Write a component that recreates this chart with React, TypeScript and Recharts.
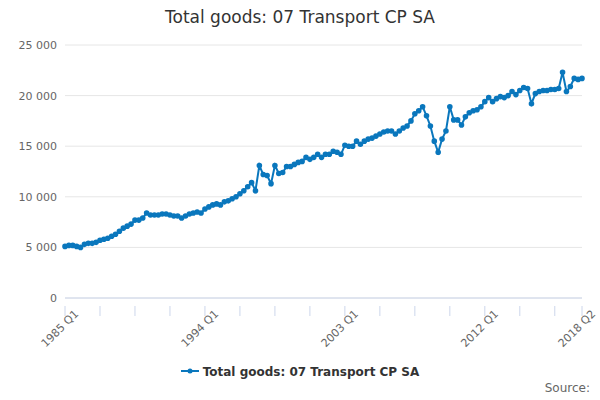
import React from "react"
import { LineChart, Line, CartesianGrid, XAxis, YAxis } from "recharts"

const VALUES = [
  5100, 5200, 5200, 5100,
  5000, 5300, 5400, 5400,
  5500, 5700, 5800, 5900,
  6100, 6300, 6600, 6900,
  7100, 7300, 7700, 7700,
  7900, 8400, 8200, 8200,
  8200, 8300, 8300, 8200,
  8100, 8100, 7900, 8100,
  8300, 8400, 8500, 8400,
  8800, 9000, 9200, 9300,
  9200, 9500, 9600, 9800,
  10000, 10300, 10600, 11000,
  11400, 10600, 13100, 12200,
  12100, 11300, 13100, 12300,
  12400, 13000, 13000, 13200,
  13400, 13500, 13900, 13700,
  13900, 14200, 13900, 14200,
  14200, 14500, 14400, 14200,
  15100, 15000, 15000, 15500,
  15200, 15500, 15700, 15800,
  16000, 16200, 16400, 16500,
  16500, 16200, 16500, 16800,
  17000, 17500, 18200, 18500,
  18900, 18000, 17000, 15500,
  14400, 15700, 16500, 18900,
  17600, 17600, 17100, 17900,
  18300, 18500, 18600, 18900,
  19400, 19800, 19400, 19700,
  19900, 19800, 20000, 20400,
  20100, 20500, 20800, 20700,
  19200, 20200, 20400, 20500,
  20500, 20600, 20600, 20700,
  22300, 20400, 20900, 21700,
  21600, 21700,
]

const START_YEAR = 1985
const Y_TICKS = [0, 5000, 10000, 15000, 20000, 25000]
const LABELS = ["1985 Q1", "1994 Q1", "2003 Q1", "2012 Q1", "2018 Q2"]
const BLUE = "#0a77bd"

const data = VALUES.map((v, i) => ({
  q: `${START_YEAR + Math.floor(i / 4)} Q${(i % 4) + 1}`,
  v,
}))
const xTicks = data.filter((_, i) => i % 9 === 0).map(d => d.q).concat(data[data.length - 1].q)

const fmt = (n: number) => n.toString().replace(/\B(?=(\d{3})+(?!\d))/g, " ")

const XTick = (props: any) => {
  const { x, y, payload } = props
  const show = LABELS.includes(payload.value)
  return (
    <g transform={`translate(${x},${y})`}>
      <line x1={0} y1={0} x2={0} y2={10} stroke="#ccd6eb" />
      {show && (
        <text x={4} y={16} textAnchor="end" fill="#666" fontSize={11} transform="rotate(-45)">
          {payload.value}
        </text>
      )}
    </g>
  )
}

export default function App() {
  return (
    <div style={{ position: "absolute", left: 0, top: 0, width: 600, height: 400, fontFamily: "'Lucida Grande', 'DejaVu Sans', sans-serif", background: "#fff" }}>
      <div style={{ position: "absolute", top: 7, width: 600, textAlign: "center", fontSize: 17, color: "#333" }}>
        Total goods: 07 Transport CP SA
      </div>
      <LineChart width={600} height={400} data={data} margin={{ top: 45, right: 18, bottom: 42, left: 0 }}>
        <CartesianGrid vertical={false} stroke="#e6e6e6" />
        <YAxis domain={[0, 25000]} ticks={Y_TICKS} width={65} axisLine={false} tickLine={false}
          tickFormatter={fmt} tick={{ fill: "#666", fontSize: 11 }} />
        <XAxis dataKey="q" ticks={xTicks} interval={0} height={60} stroke="#ccd6eb" tickLine={false} tick={<XTick />} />
        <Line dataKey="v" stroke={BLUE} strokeWidth={2} dot={{ r: 1.8, fill: BLUE, stroke: BLUE }} isAnimationActive={false} />
      </LineChart>
      <div style={{ position: "absolute", top: 365, width: 600, textAlign: "center", fontSize: 12, fontWeight: "bold", color: "#333" }}>
        <svg width={18} height={10} style={{ marginRight: 4 }}>
          <line x1={0} y1={5} x2={18} y2={5} stroke={BLUE} strokeWidth={2} />
          <circle cx={9} cy={5} r={2.5} fill={BLUE} />
        </svg>
        Total goods: 07 Transport CP SA
      </div>
      <div style={{ position: "absolute", top: 381, right: 10, fontSize: 12, color: "#666" }}>Source:</div>
    </div>
  )
}
